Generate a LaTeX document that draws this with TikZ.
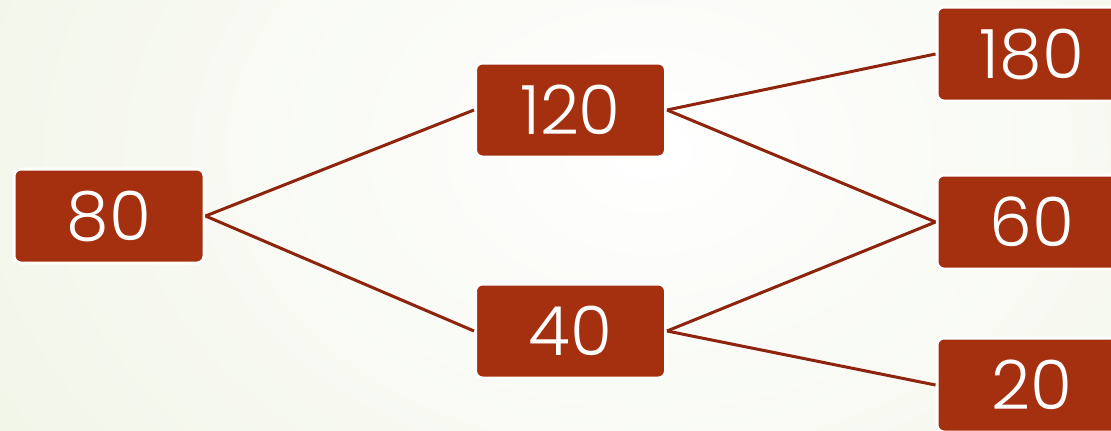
\documentclass[tikz,border=0pt]{standalone}
\usepackage{fontspec}
\setmainfont{Poppins Light}
\definecolor{boxred}{HTML}{A5300F}
\definecolor{linered}{HTML}{8E240E}
\definecolor{bgedge}{HTML}{EDF2E0}
\begin{document}
\begin{tikzpicture}[x=1pt,y=-1pt,
  numbox/.style={draw=white,line width=3pt,fill=boxred,rounded corners=7pt,
    minimum width=190pt,minimum height=94pt,inner sep=0pt,text=white,
    font=\fontsize{68}{68}\selectfont},
  link/.style={draw=linered,line width=3pt}]
\clip (0,0) rectangle (1111,431);
\shade[inner color=white,outer color=bgedge] (-400,-600) rectangle (1700,900);
\useasboundingbox (0,0) rectangle (1111,431);
\node[numbox] (n80) at (109,216) {80};
\node[numbox] (n120) at (570.5,110) {120};
\node[numbox] (n40) at (570.5,331) {40};
\node[numbox] (n180) at (1032,54) {180};
\node[numbox] (n60) at (1032,222) {60};
\node[numbox] (n20) at (1032,385) {20};
\draw[link] (n80.east) -- (n120.west);
\draw[link] (n80.east) -- (n40.west);
\draw[link] (n120.east) -- (n180.west);
\draw[link] (n120.east) -- (n60.west);
\draw[link] (n40.east) -- (n60.west);
\draw[link] (n40.east) -- (n20.west);
\end{tikzpicture}
\end{document}
